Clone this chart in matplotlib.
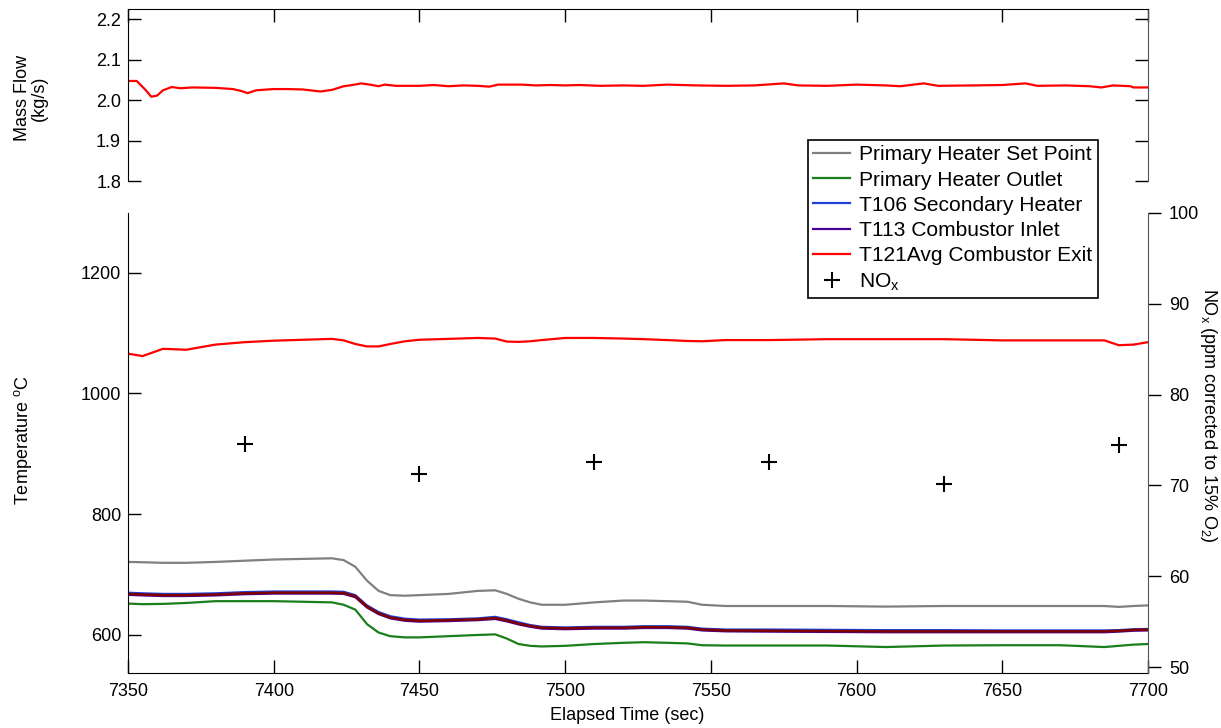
import matplotlib
matplotlib.use("Agg")
import matplotlib.pyplot as plt
from matplotlib.lines import Line2D

plt.rcParams["font.family"] = ["Liberation Sans", "DejaVu Sans"]
plt.rcParams["mathtext.fontset"] = "custom"
plt.rcParams["mathtext.rm"] = "Liberation Sans"
plt.rcParams["mathtext.it"] = "Liberation Sans:italic"
plt.rcParams["mathtext.bf"] = "Liberation Sans:bold"

# ---------------- data ----------------
# combustor air mass flow (kg/s)
flow_time = [7350, 7353, 7356, 7358, 7360, 7362, 7365, 7368, 7372, 7380, 7386, 7389,
             7391, 7394, 7400, 7405, 7410, 7416, 7420, 7424, 7427, 7430, 7433, 7436,
             7438, 7442, 7450, 7455, 7460, 7465, 7470, 7474, 7477, 7485, 7490, 7495,
             7500, 7505, 7512, 7520, 7527, 7535, 7545, 7555, 7565, 7575, 7580, 7590,
             7600, 7610, 7615, 7623, 7628, 7640, 7650, 7658, 7662, 7672, 7680, 7684,
             7688, 7694, 7695, 7700]
flow_kgs = [2.047, 2.047, 2.025, 2.008, 2.011, 2.024, 2.032, 2.029, 2.031, 2.030, 2.027, 2.022,
            2.017, 2.024, 2.027, 2.027, 2.026, 2.021, 2.025, 2.034, 2.037, 2.041, 2.038, 2.034,
            2.038, 2.035, 2.035, 2.037, 2.034, 2.036, 2.035, 2.033, 2.038, 2.038, 2.036, 2.037,
            2.036, 2.037, 2.035, 2.036, 2.035, 2.038, 2.036, 2.035, 2.036, 2.041, 2.036, 2.035,
            2.038, 2.036, 2.034, 2.041, 2.035, 2.036, 2.037, 2.041, 2.035, 2.036, 2.034, 2.031,
            2.036, 2.034, 2.031, 2.031]

# temperatures (deg C)
temp_time = [7350, 7355, 7362, 7370, 7380, 7390, 7400, 7410, 7420, 7424, 7428, 7432,
             7436, 7440, 7445, 7450, 7460, 7470, 7476, 7480, 7484, 7488, 7492, 7500,
             7510, 7520, 7527, 7535, 7542, 7547, 7555, 7570, 7590, 7610, 7630, 7650,
             7670, 7685, 7690, 7695, 7700]
heater_setpoint = [721, 720.5, 719.5, 719.5, 721, 723, 725, 726, 727, 724, 713, 690,
                   673, 666, 665, 666, 668, 673, 674, 668, 660, 654, 650, 650,
                   654, 657, 657, 656, 655, 650, 648, 648, 648, 647, 648, 648,
                   648, 648, 646.5, 648, 649]
heater_outlet = [652, 651, 651.5, 653, 656, 656, 656, 655, 654, 650, 642, 618,
                 604, 598, 596, 596, 598, 600, 601, 594, 585, 582, 581, 582,
                 585, 587, 588, 587, 586, 583, 582.5, 582.5, 582.5, 580, 582.5, 583,
                 583, 580, 582, 584, 585]
t106_secondary = [670, 669, 668, 668, 669, 671, 672, 672, 672, 671.5, 666, 649,
                  638, 631, 627, 625.5, 626, 627.5, 630, 626, 621, 616.5, 613.5, 612.5,
                  613.5, 613.5, 614.5, 614.5, 613.5, 610.5, 609, 609, 608.5, 608, 608, 607.5,
                  607.5, 607.5, 608, 609.5, 610]
t113_inlet = [666.5, 665.5, 664.5, 664.5, 665.5, 667.5, 668.5, 668.5, 668.5, 668, 662.5, 645.5,
              634.5, 627.5, 623.5, 622, 623, 624.5, 626.5, 622.5, 617.5, 613.5, 610.5, 609.5,
              610.5, 610.5, 611.5, 611.5, 610.5, 607.5, 606, 605.5, 605, 604.5, 604.5, 604.5,
              604.5, 604.5, 605.5, 607, 607.5]
t113_avg = [668, 667, 666, 666, 667, 669, 670, 670, 670, 669.5, 664, 647,
            636, 629, 625, 623.5, 624.5, 626, 628, 624, 619, 615, 612, 611,
            612, 612, 613, 613, 612, 609, 607.5, 607, 606.5, 606, 606, 606,
            606, 606, 607, 608.5, 609]
t121_exit = [1066, 1062, 1074, 1072.5, 1081, 1085, 1087.5, 1089, 1090.5, 1088, 1082, 1078,
             1078, 1082, 1086.5, 1089, 1090.5, 1092, 1091, 1086, 1085.5, 1086.5, 1088.5, 1092,
             1092, 1091, 1090, 1088.5, 1087, 1086.5, 1088.5, 1088.5, 1090, 1090, 1090, 1088,
             1088, 1088, 1080, 1081, 1085]

# NOx samples (ppm corrected to 15% O2)
nox_time = [7390, 7450, 7510, 7570, 7630, 7690]
nox_ppm = [74.6, 71.3, 72.6, 72.6, 70.2, 74.4]

x_ticks = [7350, 7400, 7450, 7500, 7550, 7600, 7650, 7700]
flow_ticks = [1.8, 1.9, 2.0, 2.1, 2.2]
temp_ticks = [600, 800, 1000, 1200]
nox_ticks = [50, 60, 70, 80, 90, 100]

# ---------------- figure ----------------
W, H = 1221, 728
fig = plt.figure(figsize=(W / 100, H / 100), dpi=100)


def fx(px):
    return px / W


def fy(py):
    return 1 - py / H


LEFT, RIGHT = 128, 1148
ax_top = fig.add_axes([fx(LEFT), fy(181), fx(RIGHT) - fx(LEFT), fy(9) - fy(181)])
ax_bot = fig.add_axes([fx(LEFT), fy(673), fx(RIGHT) - fx(LEFT), fy(213) - fy(673)])
ax_nox = ax_bot.twinx()

TICK_FS = 13
LABEL_FS = 13
TLEN = 9.5
SPINE_GRAY = "#555555"

C_SET = "#808080"
C_OUT = "#1a7f1a"
C_SEC = "#1f3fd6"
C_INL = "#4b0096"
C_AVG = "#800000"
C_EXIT = "#ff0000"

# --- mass flow panel ---
ax_top.plot(flow_time, flow_kgs, color=C_EXIT, lw=1.6)
ax_top.set_xlim(7350, 7700)
ax_top.set_ylim(1.8, 2.2247)
ax_top.set_xticks(x_ticks)
ax_top.set_yticks(flow_ticks)
ax_top.set_yticklabels([f"{v:.1f}" for v in flow_ticks])
ax_top.spines["bottom"].set_visible(False)
ax_top.spines["right"].set_color(SPINE_GRAY)
ax_top.tick_params(axis="x", bottom=False, top=True, labelbottom=False,
                   direction="in", length=TLEN, width=1)
ax_top.tick_params(axis="y", left=True, right=True, direction="in",
                   length=TLEN, width=1, labelsize=TICK_FS, pad=5)

# --- temperature panel ---
ax_bot.plot(temp_time, heater_setpoint, color=C_SET, lw=1.6)
ax_bot.plot(temp_time, heater_outlet, color=C_OUT, lw=1.6)
ax_bot.plot(temp_time, t106_secondary, color=C_SEC, lw=1.6)
ax_bot.plot(temp_time, t113_inlet, color=C_INL, lw=1.6)
ax_bot.plot(temp_time, t113_avg, color=C_AVG, lw=1.8)
ax_bot.plot(temp_time, t121_exit, color=C_EXIT, lw=1.6)
ax_bot.set_xlim(7350, 7700)
ax_bot.set_ylim(537, 1299)
ax_bot.set_xticks(x_ticks)
ax_bot.set_yticks(temp_ticks)
ax_bot.spines["top"].set_visible(False)
ax_bot.spines["right"].set_visible(False)
ax_bot.tick_params(axis="x", direction="in", length=TLEN, width=1,
                   labelsize=TICK_FS, pad=7)
ax_bot.tick_params(axis="y", direction="in", length=TLEN, width=1,
                   labelsize=TICK_FS, pad=5, right=False)

# --- NOx on the right axis ---
ax_nox.plot(nox_time, nox_ppm, linestyle="none", marker="+", markersize=12,
            mew=1.5, color="black")
ax_nox.set_ylim(49.34, 100)
ax_nox.set_yticks(nox_ticks)
for side in ("top", "left", "bottom"):
    ax_nox.spines[side].set_visible(False)
ax_nox.spines["right"].set_color(SPINE_GRAY)
ax_nox.tick_params(axis="y", direction="out", length=9, width=1,
                   labelsize=TICK_FS, pad=6)

# --- axis titles ---
fig.text(fx(31), fy(98), "Mass Flow\n(kg/s)", rotation=90, ha="center",
         va="center", fontsize=LABEL_FS, linespacing=1.05)
fig.text(fx(23), fy(440), r"Temperature $^{\mathrm{o}}$C", rotation=90,
         ha="center", va="center", fontsize=LABEL_FS)
fig.text(fx(1209), fy(415), r"NO$_{\mathrm{x}}$ (ppm corrected to 15% O$_{2}$)",
         rotation=270, ha="center", va="center", fontsize=LABEL_FS)
fig.text(fx(627), fy(716), "Elapsed Time (sec)", ha="center", va="center",
         fontsize=LABEL_FS)

# --- legend ---
handles = [
    Line2D([], [], color=C_SET, lw=1.6),
    Line2D([], [], color=C_OUT, lw=1.6),
    Line2D([], [], color=C_SEC, lw=1.6),
    Line2D([], [], color=C_INL, lw=1.6),
    Line2D([], [], color=C_EXIT, lw=1.6),
    Line2D([], [], linestyle="none", marker="+", markersize=12, mew=1.5, color="black"),
]
labels = [
    "Primary Heater Set Point",
    "Primary Heater Outlet",
    "T106 Secondary Heater",
    "T113 Combustor Inlet",
    "T121Avg Combustor Exit",
    r"NO$_{\mathrm{x}}$",
]
leg = fig.legend(handles, labels, loc="upper left",
                 bbox_to_anchor=(fx(808), fy(140)), bbox_transform=fig.transFigure,
                 fontsize=15.1, frameon=True, fancybox=False, framealpha=1,
                 edgecolor="black", borderaxespad=0, borderpad=0.25,
                 labelspacing=0.3, handlelength=1.75, handletextpad=0.45)
leg.get_frame().set_linewidth(1.2)

fig.savefig("out.png", dpi=100)
